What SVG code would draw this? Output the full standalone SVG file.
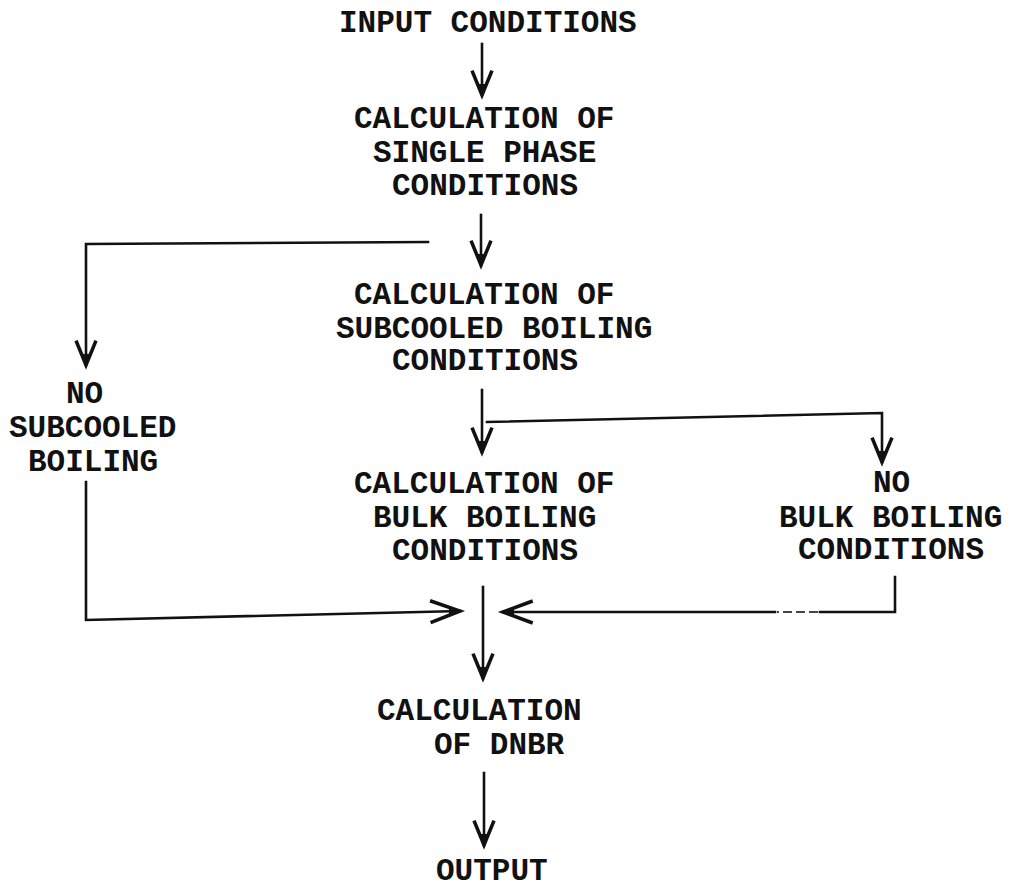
<svg xmlns="http://www.w3.org/2000/svg" width="1016" height="889" viewBox="0 0 1016 889">
<style>
  text { font-family: "Liberation Mono", "Courier New", monospace; font-size: 31px; font-weight: bold; fill: #111; }
  .ln { fill: none; stroke: #111; stroke-width: 2.6; stroke-linecap: square; }
  .faint { fill: none; stroke: #444; stroke-width: 2; stroke-dasharray: 9 4; }
</style>
<defs>
  <marker id="ah" markerUnits="userSpaceOnUse" markerWidth="40" markerHeight="40" viewBox="-30 -15 36 30" refX="0" refY="0" orient="auto">
    <path d="M-22,-9 L0,0 L-22,9" fill="none" stroke="#111" stroke-width="3.2" stroke-linejoin="miter"/>
    <path d="M-10,-3 L0,0 L-10,3 Z" fill="#111"/>
  </marker>
  <marker id="ahw" markerUnits="userSpaceOnUse" markerWidth="44" markerHeight="44" viewBox="-34 -16 40 32" refX="0" refY="0" orient="auto">
    <path d="M-27,-10 L0,0 L-27,10" fill="none" stroke="#111" stroke-width="3.2" stroke-linejoin="miter"/>
    <path d="M-10,-3 L0,0 L-10,3 Z" fill="#111"/>
  </marker>
</defs>

<g id="connectors">
  <path class="ln" d="M482,44 L482,95" marker-end="url(#ah)"/>
  <path class="ln" d="M481,215 L481,265" marker-end="url(#ah)"/>
  <path class="ln" d="M428,242 L86,244 L86,365" marker-end="url(#ah)"/>
  <path class="ln" d="M482,390 L482,452" marker-end="url(#ah)"/>
  <path class="ln" d="M487,422 L882,413 L882,462" marker-end="url(#ah)"/>
  <path class="ln" d="M86,482 L86,620 L460,611" marker-end="url(#ahw)"/>
  <path class="ln" d="M483,587 L483,678" marker-end="url(#ah)"/>
  <path class="ln" d="M895,577 L895,612 L820,612"/>
  <path class="faint" d="M818,612 L777,612"/>
  <path class="ln" d="M775,612 L503,612" marker-end="url(#ahw)"/>
  <path class="ln" d="M484,773 L484,845" marker-end="url(#ah)"/>
</g>

<g id="input">
  <text x="339" y="32">INPUT CONDITIONS</text>
</g>
<g id="single-phase">
  <text x="354" y="128">CALCULATION OF</text>
  <text x="373" y="162">SINGLE PHASE</text>
  <text x="392" y="195">CONDITIONS</text>
</g>
<g id="subcooled">
  <text x="354" y="304">CALCULATION OF</text>
  <text x="336" y="338">SUBCOOLED BOILING</text>
  <text x="392" y="370">CONDITIONS</text>
</g>
<g id="no-subcooled">
  <text x="66" y="403">NO</text>
  <text x="9" y="437">SUBCOOLED</text>
  <text x="28" y="471">BOILING</text>
</g>
<g id="bulk">
  <text x="354" y="493">CALCULATION OF</text>
  <text x="373" y="527">BULK BOILING</text>
  <text x="392" y="560">CONDITIONS</text>
</g>
<g id="no-bulk">
  <text x="873" y="492">NO</text>
  <text x="779" y="527">BULK BOILING</text>
  <text x="798" y="559">CONDITIONS</text>
</g>
<g id="dnbr">
  <text x="377" y="720">CALCULATION</text>
  <text x="434" y="754">OF DNBR</text>
</g>
<g id="output">
  <text x="436" y="880">OUTPUT</text>
</g>
</svg>
